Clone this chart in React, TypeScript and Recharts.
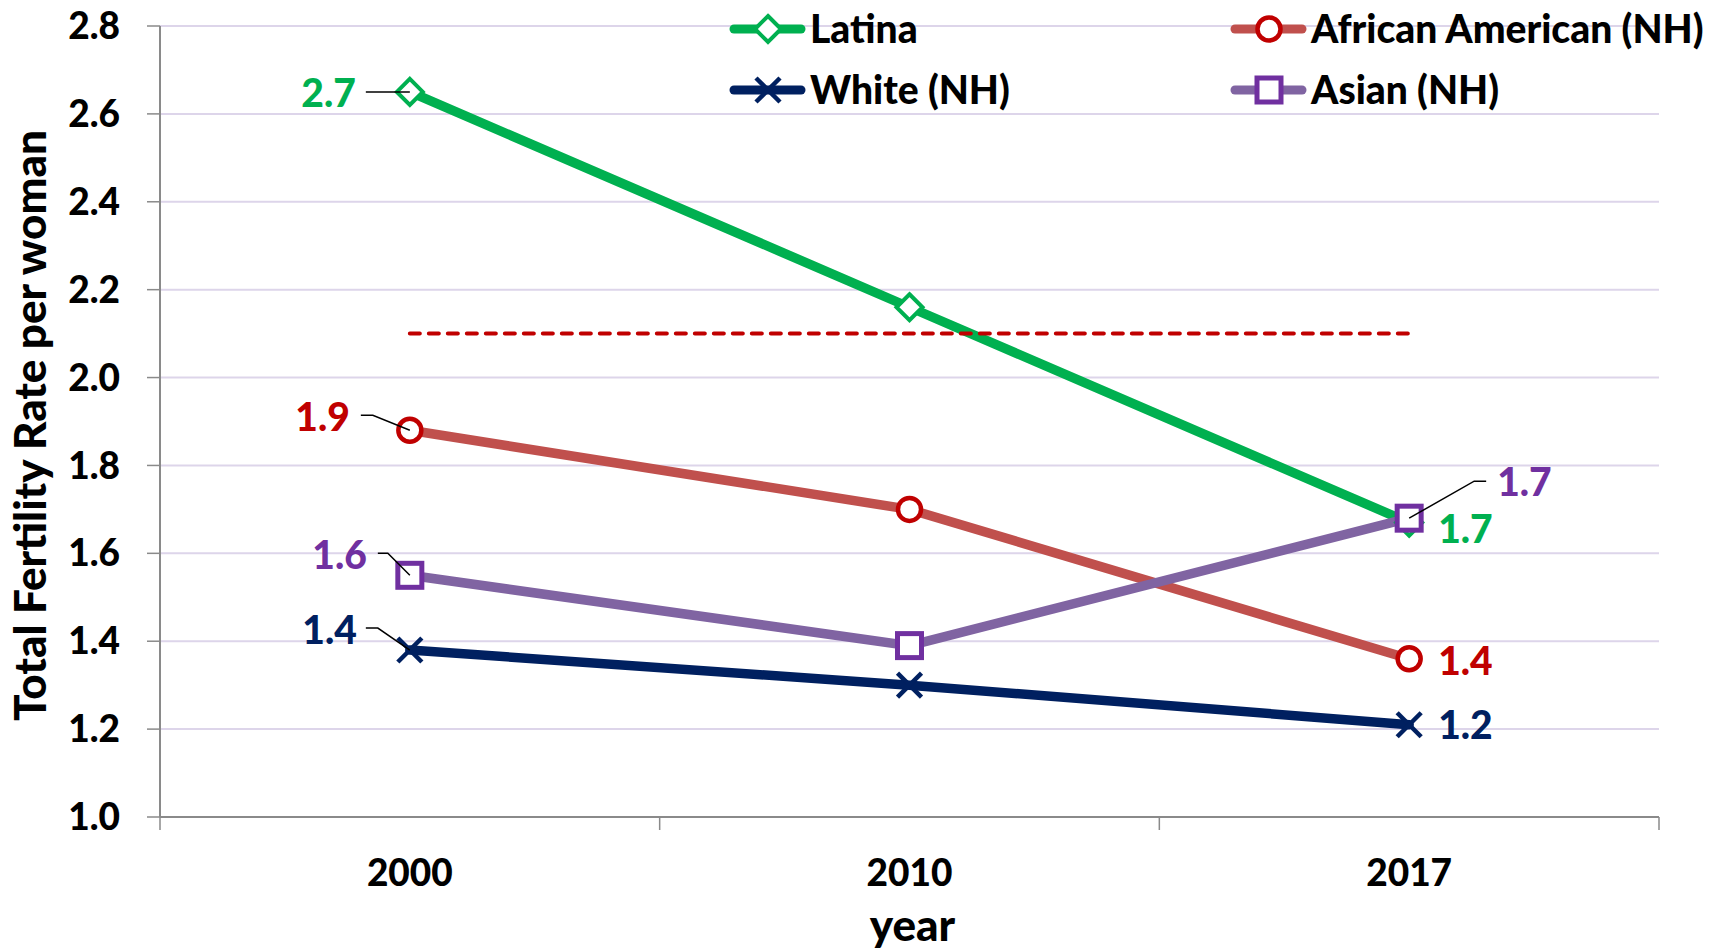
import React from 'react';
import { LineChart, Line, XAxis, YAxis, CartesianGrid, LabelList } from 'recharts';

// ---------- data ----------
const years = ['2000', '2010', '2017'];
const latina = [2.65, 2.16, 1.67];
const africanAmerican = [1.88, 1.70, 1.36];
const white = [1.38, 1.30, 1.21];
const asian = [1.55, 1.39, 1.68];
const replacementLevel = [2.1, 2.1, 2.1];
const yTicks = [1.0, 1.2, 1.4, 1.6, 1.8, 2.0, 2.2, 2.4, 2.6, 2.8];
const xTicks = [-0.5, 0, 0.5, 1, 1.5, 2, 2.5];
const seriesNames = ['Latina', 'African American (NH)', 'White (NH)', 'Asian (NH)'];
const yTitle = 'Total Fertility Rate per woman';
const xTitle = 'year';

const data = years.map((year, i) => ({
  idx: i,
  year,
  latina: latina[i],
  africanAmerican: africanAmerican[i],
  white: white[i],
  asian: asian[i],
  replacement: replacementLevel[i],
}));

// ---------- styles ----------
const FONT = 'Lato, "Noto Sans", "DejaVu Sans", sans-serif';
const W = 900;
const AXIS = '#8a8a8a';
const GRID = '#ddd5ea';
const C = {
  latinaLine: '#00b050', latinaMark: '#00b050', latinaText: '#00b050',
  aaLine: '#c0504d', aaMark: '#c00000', aaText: '#c00000',
  whiteLine: '#002060', whiteMark: '#002060', whiteText: '#002060',
  asianLine: '#8064a2', asianMark: '#7030a0', asianText: '#7030a0',
  ref: '#c00000',
};

const fmt = (v: number) => (v + 1e-9).toFixed(1);

// ---------- markers ----------
const Diamond = ({ cx, cy }: any) => (
  <polygon points={`${cx},${cy - 13} ${cx + 13},${cy} ${cx},${cy + 13} ${cx - 13},${cy}`}
    fill="#fff" stroke={C.latinaMark} strokeWidth={4} strokeLinejoin="miter" />
);
const Circle = ({ cx, cy }: any) => (
  <circle cx={cx} cy={cy} r={11.5} fill="#fff" stroke={C.aaMark} strokeWidth={4.5} />
);
const Cross = ({ cx, cy }: any) => (
  <g stroke={C.whiteMark} strokeWidth={4.5}>
    <line x1={cx - 12} y1={cy - 12} x2={cx + 12} y2={cy + 12} />
    <line x1={cx - 12} y1={cy + 12} x2={cx + 12} y2={cy - 12} />
  </g>
);
const Square = ({ cx, cy }: any) => (
  <rect x={cx - 12} y={cy - 12} width={24} height={24} fill="#fff" stroke={C.asianMark} strokeWidth={5} />
);

const dotOf = (Shape: any) => (props: any) => (
  <Shape key={`d-${props.index}`} cx={props.cx} cy={props.cy} />
);

// ---------- data labels ----------
type Spec = { dx: number; dy: number; anchor: 'start' | 'end'; leader?: [number, number][] } | null;

const makeLabel = (color: string, specs: Spec[]) => (props: any) => {
  const { x, y, value, index } = props;
  const s = specs[index];
  if (!s || x == null || y == null) return null;
  return (
    <g key={`l-${index}`}>
      {s.leader && (
        <polyline
          points={s.leader.map(([a, b]) => `${x + a},${y + b}`).join(' ')}
          fill="none" stroke="#000" strokeWidth={1.5}
        />
      )}
      <text x={x + s.dx} y={y + s.dy} textAnchor={s.anchor} fill={color}
        fontSize={39} fontWeight={W} fontFamily={FONT}>
        {fmt(value)}
      </text>
    </g>
  );
};

const latinaLabels: Spec[] = [
  { dx: -54, dy: 15, anchor: 'end', leader: [[-44, 0], [0, 0]] },
  null,
  { dx: 29, dy: 20, anchor: 'start' },
];
const aaLabels: Spec[] = [
  { dx: -60, dy: 1, anchor: 'end', leader: [[-49, -15], [-37, -15], [0, 0]] },
  null,
  { dx: 29, dy: 16, anchor: 'start' },
];
const whiteLabels: Spec[] = [
  { dx: -53, dy: -6, anchor: 'end', leader: [[-44, -22], [-32, -22], [0, 0]] },
  null,
  { dx: 29, dy: 14, anchor: 'start' },
];
const asianLabels: Spec[] = [
  { dx: -43, dy: -6, anchor: 'end', leader: [[-32, -22], [-22, -22], [0, 0]] },
  null,
  { dx: 88, dy: -22, anchor: 'start', leader: [[0, 0], [65, -37], [77, -37]] },
];

// ---------- axis pieces ----------
const XTick = (props: any) => {
  const { x, y, payload } = props;
  const v = payload.value;
  if (Number.isInteger(v)) {
    return (
      <text x={x} y={y + 69} textAnchor="middle" fontSize={37} fontWeight={W}
        fontFamily={FONT} fill="#000">{years[v]}</text>
    );
  }
  return <line x1={x} y1={y} x2={x} y2={y + 13} stroke={AXIS} strokeWidth={1.5} />;
};

const YTitle = (props: any) => {
  const vb = props.viewBox || {};
  const x = (vb.x || 0) + 46;
  const y = (vb.y || 0) + (vb.height || 0) / 2 + 4;
  return (
    <text x={x} y={y} transform={`rotate(-90, ${x}, ${y})`} textAnchor="middle"
      fontSize={44} fontWeight={W} fontFamily={FONT} fill="#000">{yTitle}</text>
  );
};

const XTitle = (props: any) => {
  const vb = props.viewBox || {};
  return (
    <text x={(vb.x || 0) + (vb.width || 0) / 2 + 3} y={(vb.y || 0) + 124} textAnchor="middle"
      fontSize={44} fontWeight={W} fontFamily={FONT} fill="#000">{xTitle}</text>
  );
};

// ---------- legend ----------
const legendItems = [
  { name: seriesNames[0], line: C.latinaLine, Shape: Diamond, x: 730, y: 29 },
  { name: seriesNames[1], line: C.aaLine, Shape: Circle, x: 1231, y: 29 },
  { name: seriesNames[2], line: C.whiteLine, Shape: Cross, x: 730, y: 90 },
  { name: seriesNames[3], line: C.asianLine, Shape: Square, x: 1231, y: 90 },
];

const LegendOverlay = () => (
  <svg width={1715} height={130} style={{ position: 'absolute', left: 0, top: 0, pointerEvents: 'none' }}>
    {legendItems.map((it) => (
      <g key={it.name}>
        <line x1={it.x + 4} y1={it.y} x2={it.x + 71} y2={it.y} stroke={it.line}
          strokeWidth={9} strokeLinecap="round" />
        <it.Shape cx={it.x + 38} cy={it.y} />
        <text x={it.x + 80} y={it.y + 14} fontSize={39} fontWeight={W}
          fontFamily={FONT} fill="#000">{it.name}</text>
      </g>
    ))}
  </svg>
);

// ---------- chart ----------
export default function App() {
  return (
    <div style={{ position: 'absolute', left: 0, top: 0, width: 1715, height: 949, background: '#fff' }}>
      <LineChart width={1715} height={949} data={data}
        margin={{ top: 26, right: 56, bottom: 0, left: 0 }}>
        <CartesianGrid horizontal vertical={false} stroke={GRID} strokeWidth={2} />
        <XAxis type="number" dataKey="idx" domain={[-0.5, 2.5]} ticks={xTicks} interval={0}
          height={132} tickSize={0} tickMargin={0} tickLine={false}
          axisLine={{ stroke: AXIS, strokeWidth: 2 }} tick={<XTick />}
          label={<XTitle />} allowDecimals />
        <YAxis type="number" domain={[1.0, 2.8]} ticks={yTicks} interval={0} width={160}
          tickSize={13} tickMargin={27} tickFormatter={(v: number) => v.toFixed(1)}
          tickLine={{ stroke: AXIS, strokeWidth: 1.5 }} axisLine={{ stroke: AXIS, strokeWidth: 2 }}
          tick={{ fontSize: 37, fontWeight: W, fontFamily: FONT, fill: '#000' }}
          label={<YTitle />} />
        <Line dataKey="latina" name={seriesNames[0]} stroke={C.latinaLine} strokeWidth={9.5}
          strokeLinecap="round" dot={dotOf(Diamond)} activeDot={false} isAnimationActive={false}>
          <LabelList dataKey="latina" content={makeLabel(C.latinaText, latinaLabels)} />
        </Line>
        <Line dataKey="africanAmerican" name={seriesNames[1]} stroke={C.aaLine} strokeWidth={9.5}
          strokeLinecap="round" dot={dotOf(Circle)} activeDot={false} isAnimationActive={false}>
          <LabelList dataKey="africanAmerican" content={makeLabel(C.aaText, aaLabels)} />
        </Line>
        <Line dataKey="white" name={seriesNames[2]} stroke={C.whiteLine} strokeWidth={9.5}
          strokeLinecap="round" dot={dotOf(Cross)} activeDot={false} isAnimationActive={false}>
          <LabelList dataKey="white" content={makeLabel(C.whiteText, whiteLabels)} />
        </Line>
        <Line dataKey="asian" name={seriesNames[3]} stroke={C.asianLine} strokeWidth={9.5}
          strokeLinecap="round" dot={dotOf(Square)} activeDot={false} isAnimationActive={false}>
          <LabelList dataKey="asian" content={makeLabel(C.asianText, asianLabels)} />
        </Line>
        <Line dataKey="replacement" stroke={C.ref} strokeWidth={4} strokeDasharray="10 9"
          strokeLinecap="round" dot={false} activeDot={false} isAnimationActive={false} legendType="none" />
      </LineChart>
      <LegendOverlay />
    </div>
  );
}
